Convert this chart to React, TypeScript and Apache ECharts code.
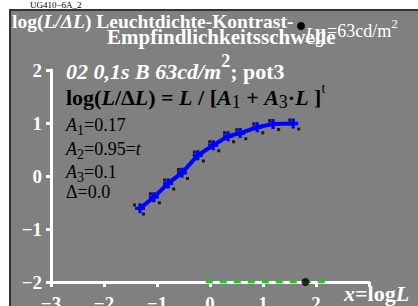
import React, { useEffect, useRef } from "react";
import * as echarts from "echarts";

const curveX = [-1.32, -1.06, -0.79, -0.53, -0.23, 0.06, 0.34, 0.57, 0.89, 1.19, 1.57];
const curveY = [-0.61, -0.4, -0.14, 0.06, 0.39, 0.58, 0.75, 0.81, 0.92, 0.98, 0.99];
const blackX = [-1.34, -1.04, -0.77, -0.51, -0.21, 0.08, 0.36, 0.59, 0.91, 1.21, 1.59];
const blackY = [-0.63, -0.42, -0.16, 0.04, 0.37, 0.56, 0.73, 0.79, 0.9, 0.96, 0.97];
const greenX = [-0.08, 2.25];
const baseY = -2;
const adaptX = 1.8;
const xTicks = [-3, -2, -1, 0, 1, 2];
const yTicks = [-2, -1, 0, 1, 2];

const SERIF = "'Liberation Serif', 'DejaVu Serif', serif";

export default function App() {
  const ref = useRef<HTMLDivElement>(null);
  useEffect(() => {
    const chart = echarts.init(ref.current!, null, { renderer: "svg" });
    const white = "#ffffff";
    const black = "#000000";
    const minus = (v: number) => String(v).replace("-", "\u2212");
    const lineStyle = { color: white, width: 3 };
    chart.setOption({
      animation: false,
      backgroundColor: "#ffffff",
      grid: { left: 51, right: 49, top: 70, bottom: 24, containLabel: false, outerBoundsMode: "none" },
      xAxis: {
        type: "value",
        min: -3,
        max: 3,
        interval: 1,
        splitLine: { show: false },
        axisLine: { show: true, onZero: false, lineStyle },
        axisTick: { show: true, length: 5, lineStyle },
        axisLabel: {
          color: white,
          fontFamily: SERIF,
          fontWeight: "bold",
          fontSize: 19,
          margin: 12,
          formatter: (v: number) => (xTicks.includes(v) ? minus(v) : ""),
        },
      },
      yAxis: {
        type: "value",
        min: -2,
        max: 2,
        interval: 1,
        splitLine: { show: false },
        axisLine: { show: true, onZero: false, lineStyle },
        axisTick: { show: true, length: 5, lineStyle },
        axisLabel: {
          color: white,
          fontFamily: SERIF,
          fontWeight: "bold",
          fontSize: 19,
          margin: 9,
          formatter: (v: number) => (yTicks.includes(v) ? minus(v) : ""),
        },
      },
      graphic: [
        { type: "rect", z: -10, shape: { x: 10, y: 10, width: 420, height: 310 }, style: { fill: "#808080", stroke: "#333333", lineWidth: 2 } },
        { type: "text", x: 30, y: 0, style: { text: "UG410\u22126A_2", fill: black, font: `9px ${SERIF}` } },
        {
          type: "text", x: 12, y: 11, z: 5,
          style: {
            text: "{b|log(}{bi|L/ΔL}{b|) Leuchtdichte-Kontrast-}",
            rich: {
              b: { fill: white, fontFamily: SERIF, fontWeight: "bold", fontSize: 19.5 },
              bi: { fill: white, fontFamily: SERIF, fontWeight: "bold", fontStyle: "italic", fontSize: 19.5 },
            },
          },
        },
        { type: "text", x: 107, y: 26, z: 5, style: { text: "Empfindlichkeitsschwelle", fill: white, font: `bold 21px ${SERIF}` } },
        { type: "circle", z: 6, shape: { cx: 301, cy: 26, r: 4 }, style: { fill: black } },
        { type: "text", x: 305, y: 25, z: 7, style: { text: "Lg", fill: white, font: `italic 20px ${SERIF}` } },
        {
          type: "text", x: 327, y: 16, z: 7,
          style: {
            text: "{n|=63cd/m}{s|2}",
            rich: {
              n: { fill: white, fontFamily: SERIF, fontSize: 18, height: 20, lineHeight: 30, verticalAlign: "middle" },
              s: { fill: white, fontFamily: SERIF, fontSize: 13, height: 14, lineHeight: 30, verticalAlign: "top" },
            },
          },
        },
        {
          type: "text", x: 66, y: 56, z: 5,
          style: {
            text: "{bi|02 0,1s B 63cd/m}{sup|2}{b|; pot3}",
            rich: {
              bi: { fill: white, fontFamily: SERIF, fontWeight: "bold", fontStyle: "italic", fontSize: 22, height: 22, lineHeight: 30, verticalAlign: "middle" },
              sup: { fill: white, fontFamily: SERIF, fontWeight: "bold", fontSize: 18, height: 10, lineHeight: 30, verticalAlign: "top" },
              b: { fill: white, fontFamily: SERIF, fontWeight: "bold", fontSize: 22, height: 22, lineHeight: 30, verticalAlign: "middle" },
            },
          },
        },
        {
          type: "text", x: 66, y: 77, z: 5,
          style: {
            text: "{b|log(}{bi|L}{b|/Δ}{bi|L}{b|) = }{bi|L}{b| / [}{bi|A}{sub|1}{b| + }{bi|A}{sub|3}{b|·}{bi|L}{b| ]}{sup|t}",
            rich: {
              b: { fill: black, fontFamily: SERIF, fontWeight: "bold", fontSize: 22, height: 22, lineHeight: 40, verticalAlign: "middle" },
              bi: { fill: black, fontFamily: SERIF, fontWeight: "bold", fontStyle: "italic", fontSize: 22, height: 22, lineHeight: 40, verticalAlign: "middle" },
              sub: { fill: black, fontFamily: SERIF, fontSize: 18, height: 30, lineHeight: 40, verticalAlign: "bottom" },
              sup: { fill: black, fontFamily: SERIF, fontSize: 14, height: 22, lineHeight: 40, verticalAlign: "top" },
            },
          },
        },
        ...[
          ["1", "=0.17", 125],
          ["2", "=0.95=", 149],
          ["3", "=0.1", 172],
        ].map(([s, v, cy]) => ({
          type: "text", x: 66, y: (cy as number) - 15, z: 5,
          style: {
            text: `{i|A}{sub|${s}}{n|${v}}` + (s === "2" ? "{i|t}" : ""),
            rich: {
              i: { fill: black, fontFamily: SERIF, fontStyle: "italic", fontSize: 18, height: 20, lineHeight: 30, verticalAlign: "middle" },
              n: { fill: black, fontFamily: SERIF, fontSize: 18, height: 20, lineHeight: 30, verticalAlign: "middle" },
              sub: { fill: black, fontFamily: SERIF, fontSize: 14, height: 20, lineHeight: 30, verticalAlign: "bottom" },
            },
          },
        })),
        { type: "text", x: 66, y: 183, z: 5, style: { text: "Δ=0.0", fill: black, font: `18px ${SERIF}` } },
        {
          type: "text", x: 344, y: 282, z: 5,
          style: {
            text: "{bi|x}{b|=log}{bi|L}",
            rich: {
              b: { fill: white, fontFamily: SERIF, fontWeight: "bold", fontSize: 22 },
              bi: { fill: white, fontFamily: SERIF, fontWeight: "bold", fontStyle: "italic", fontSize: 22 },
            },
          },
        },
      ],
      series: [
        {
          type: "line",
          data: greenX.map((x) => [x, baseY]),
          symbol: "none",
          lineStyle: { color: "#00dd00", width: 3, type: [7, 7] },
          z: 3,
        },
        {
          type: "scatter",
          data: [[adaptX, baseY]],
          symbol: "circle",
          symbolSize: 8,
          itemStyle: { color: black },
          z: 4,
        },
        {
          type: "scatter",
          data: blackX.map((x, i) => [x, blackY[i]]),
          symbol: "path://M0,0 L3,0 L3,3 L0,3 Z M9,9 L12,9 L12,12 L9,12 Z",
          symbolSize: 12,
          itemStyle: { color: black },
          z: 2,
        },
        {
          type: "line",
          data: curveX.map((x, i) => [x, curveY[i]]),
          symbol: "path://M2,0 L4,0 L4,2 L6,2 L6,4 L4,4 L4,6 L2,6 L2,4 L0,4 L0,2 L2,2 Z",
          symbolSize: 10,
          showSymbol: true,
          itemStyle: { color: "#0000ff" },
          lineStyle: { color: "#0000ff", width: 4 },
          z: 3,
        },
      ],
    });
    return () => chart.dispose();
  }, []);
  return <div ref={ref} style={{ width: 418, height: 306, position: "absolute", left: 0, top: 0 }} />;
}
